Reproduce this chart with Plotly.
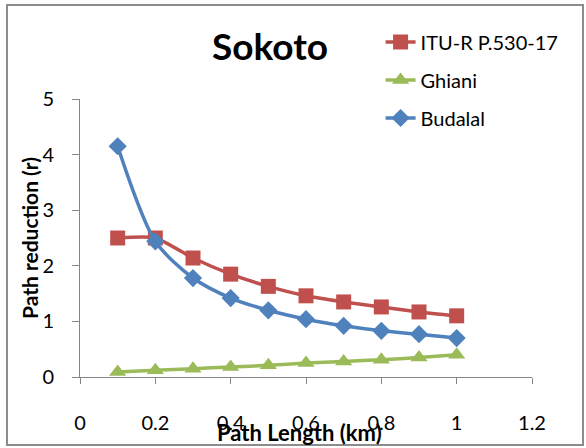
import plotly.graph_objects as go

path_length = [0.1, 0.2, 0.3, 0.4, 0.5, 0.6, 0.7, 0.8, 0.9, 1.0]
itu = [2.50, 2.50, 2.14, 1.85, 1.63, 1.46, 1.35, 1.26, 1.17, 1.10]
ghiani = [0.09, 0.12, 0.15, 0.18, 0.21, 0.25, 0.28, 0.31, 0.35, 0.40]
budalal = [4.15, 2.44, 1.78, 1.42, 1.20, 1.04, 0.92, 0.83, 0.77, 0.70]

x_ticks = [0, 0.2, 0.4, 0.6, 0.8, 1, 1.2]
x_tick_labels = ["0", "0.2", "0.4", "0.6", "0.8", "1", "1.2"]
y_ticks = [0, 1, 2, 3, 4, 5]

FONT = "Lato"
RED = "#C0504D"
GREEN = "#9BBB59"
BLUE = "#4F81BD"

fig = go.Figure()
fig.add_trace(go.Scatter(x=path_length, y=itu, name="ITU-R P.530-17", mode="lines+markers",
                         line=dict(color=RED, width=3.5, shape="spline", smoothing=0.6),
                         marker=dict(symbol="square", size=15, color=RED), legend="legend",
                         showlegend=True))
fig.add_trace(go.Scatter(x=path_length, y=ghiani, name="Ghiani", mode="lines+markers",
                         line=dict(color=GREEN, width=3.5, shape="spline", smoothing=0.6),
                         marker=dict(symbol="triangle-up", size=15, color=GREEN), legend="legend2",
                         showlegend=True))
fig.add_trace(go.Scatter(x=path_length, y=budalal, name="Budalal", mode="lines+markers",
                         line=dict(color=BLUE, width=3.5, shape="spline", smoothing=0.8),
                         marker=dict(symbol="diamond", size=14, color=BLUE), legend="legend3",
                         showlegend=True))

LEG_X = 0.665
leg_common = dict(xanchor="left", yanchor="middle", bgcolor="rgba(0,0,0,0)",
                  font=dict(family=FONT, size=20, color="#000000"))
fig.update_layout(
    width=586, height=448, autosize=False,
    margin=dict(l=80, r=54, t=99, b=71),
    paper_bgcolor="white", plot_bgcolor="white",
    showlegend=True,
    font=dict(family=FONT, size=20, color="#000000"),
    legend=dict(x=LEG_X, y=(377 - 42) / 278, **leg_common),
    legend2=dict(x=LEG_X, y=(377 - 80) / 278, **leg_common),
    legend3=dict(x=LEG_X, y=(377 - 118) / 278, **leg_common),
    xaxis=dict(range=[0, 1.2], tickvals=x_ticks, ticktext=x_tick_labels,
               showgrid=False, zeroline=False, showline=True, linecolor="#868686", linewidth=1,
               ticks="outside", ticklen=6, tickcolor="#868686",
               ticklabelstandoff=22, tickfont=dict(family=FONT, size=20)),
    yaxis=dict(range=[0, 5], tickvals=y_ticks,
               showgrid=False, zeroline=False, showline=True, linecolor="#868686", linewidth=1,
               ticks="outside", ticklen=7, tickcolor="#868686",
               ticklabelstandoff=14, tickfont=dict(family=FONT, size=20)),
    shapes=[dict(type="rect", xref="paper", yref="paper",
                 x0=(7 - 80) / 452, x1=(583 - 80) / 452,
                 y0=(377 - 445) / 278, y1=(377 - 5) / 278,
                 line=dict(color="#8C8C8C", width=2), fillcolor="rgba(0,0,0,0)", layer="below")],
    annotations=[
        dict(text="<b>Sokoto</b>", xref="paper", yref="paper", x=(270 - 80) / 452, y=(377 - 45) / 278,
             showarrow=False, xanchor="center", yanchor="middle", font=dict(family=FONT, size=37)),
        dict(text="<b>Path reduction (r)</b>", xref="paper", yref="paper", x=(29 - 80) / 452, y=(377 - 238) / 278,
             showarrow=False, textangle=-90, xanchor="center", yanchor="middle", font=dict(family=FONT, size=21)),
        dict(text="<b>Path Length (km)</b>", xref="paper", yref="paper", x=(299 - 80) / 452, y=(377 - 432) / 278,
             showarrow=False, xanchor="center", yanchor="middle", font=dict(family=FONT, size=22)),
    ],
)

fig.write_html("out.html")
